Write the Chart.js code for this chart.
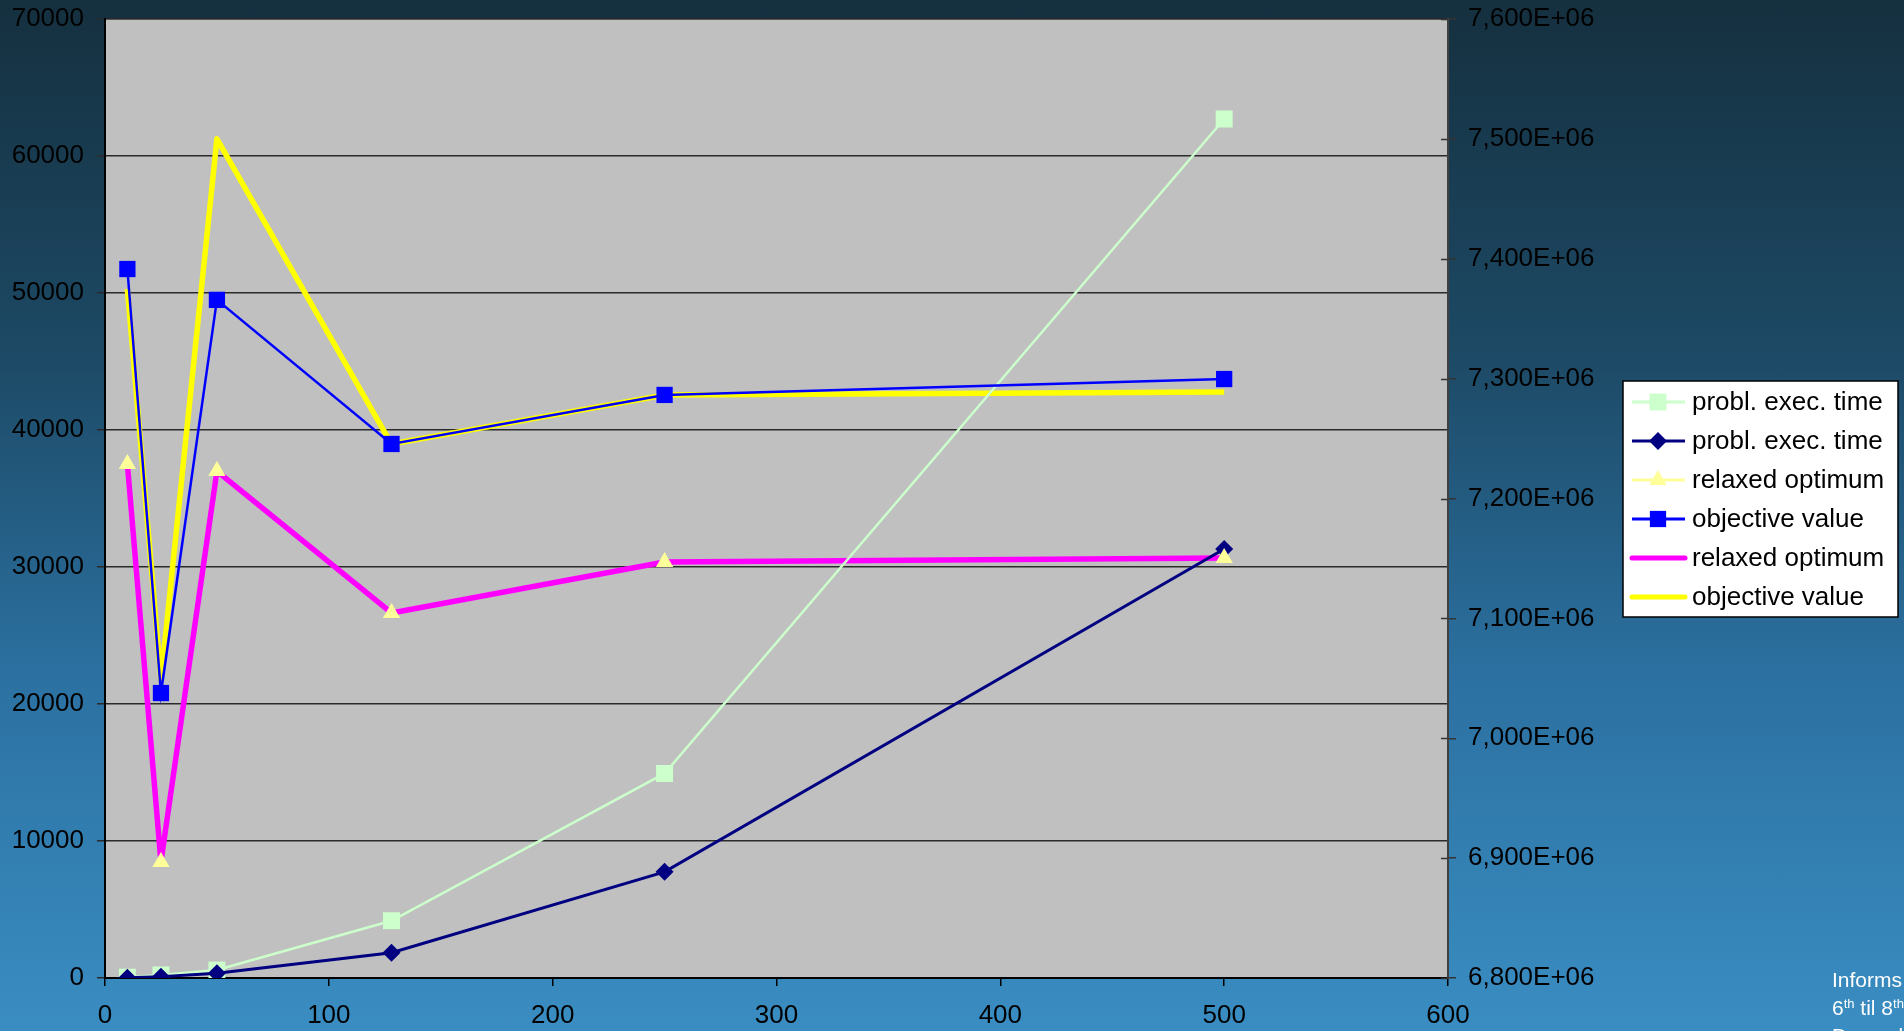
<!DOCTYPE html>
<html>
<head>
<meta charset="utf-8">
<script src="https://cdn.jsdelivr.net/npm/chart.js@4.4.1/dist/chart.umd.min.js"></script>
<style>
  html, body { margin: 0; padding: 0; overflow: hidden; }
  body {
    width: 1904px; height: 1031px; position: relative;
    background: linear-gradient(to bottom, #15303f 0%, #1d4a66 35%, #2b70a0 65%, #3a8dc2 100%);
    font-family: 'Liberation Sans', Arial, sans-serif;
  }
  #chart { position: absolute; left: 0; top: 0; }
  #note {
    position: absolute; left: 1832px; top: 966px; color: #fff;
    font-size: 21px; line-height: 28px; white-space: nowrap;
  }
  #note sup { font-size: 13px; vertical-align: 7px; line-height: 0; }
</style>
</head>
<body>
<canvas id="chart" width="1904" height="1031"></canvas>
<div id="note">Informs<br>6<sup>th</sup> til 8<sup>th</sup><br>December</div>
<script>
const problemSizes = [10, 25, 50, 128, 250, 500];
const execTimeA = [60, 220, 580, 4180, 14930, 62700];
const execTimeB = [20, 100, 340, 1850, 7750, 31310];
const relaxedLeft = [37520, 8470, 37010, 26640, 30370, 30660];
const objectiveLeft = [51750, 20800, 49500, 38980, 42560, 43720];
const relaxedRight = [7228800, 6896800, 7222900, 7104500, 7147000, 7150400];
const objectiveRight = [7374800, 7049000, 7500000, 7245400, 7286400, 7288800];

const xTicks = [0, 100, 200, 300, 400, 500, 600];
const leftTicks = [0, 10000, 20000, 30000, 40000, 50000, 60000, 70000];
const leftLabels = ['0', '10000', '20000', '30000', '40000', '50000', '60000', '70000'];
const rightTicks = [6800000, 6900000, 7000000, 7100000, 7200000, 7300000, 7400000, 7500000, 7600000];
const rightLabels = ['6,800E+06', '6,900E+06', '7,000E+06', '7,100E+06', '7,200E+06',
                     '7,300E+06', '7,400E+06', '7,500E+06', '7,600E+06'];

const FONT = "'Liberation Sans', Arial, sans-serif";

function pts(ys) {
    return problemSizes.map((x, i) => ({ x: x, y: ys[i] }));
}

const datasets = [
    {
        label: 'probl. exec. time', data: pts(execTimeA), yAxisID: 'y',
        borderColor: '#ccffcc', backgroundColor: '#ccffcc', borderWidth: 2.5,
        pointStyle: 'rect', pointRadius: 12, pointBorderWidth: 0, order: 3
    },
    {
        label: 'probl. exec. time', data: pts(execTimeB), yAxisID: 'y',
        borderColor: '#000080', backgroundColor: '#000080', borderWidth: 3,
        pointStyle: 'rectRot', pointRadius: 9, pointBorderWidth: 0, order: 2
    },
    {
        label: 'relaxed optimum', data: pts(relaxedLeft), yAxisID: 'y',
        borderColor: '#ffff99', backgroundColor: '#ffff99', borderWidth: 2.5,
        pointStyle: 'triangle', pointRadius: 10, pointBorderWidth: 0, showLine: false, order: 1
    },
    {
        label: 'objective value', data: pts(objectiveLeft), yAxisID: 'y',
        borderColor: '#0000ff', backgroundColor: '#0000ff', borderWidth: 2.5,
        pointStyle: 'rect', pointRadius: 11.5, pointBorderWidth: 0, order: 0
    },
    {
        label: 'relaxed optimum', data: pts(relaxedRight), yAxisID: 'y1',
        borderColor: '#ff00ff', backgroundColor: '#ff00ff', borderWidth: 5.5,
        borderJoinStyle: 'round', pointRadius: 0, order: 4
    },
    {
        label: 'objective value', data: pts(objectiveRight), yAxisID: 'y1',
        borderColor: '#ffff00', backgroundColor: '#ffff00', borderWidth: 5.5,
        borderJoinStyle: 'round', pointRadius: 0, order: 5
    }
];

const plotBackground = {
    id: 'plotBackground',
    beforeDraw(chart) {
        const a = chart.chartArea, ctx = chart.ctx;
        ctx.save();
        ctx.fillStyle = '#c0c0c0';
        ctx.fillRect(a.left, a.top, a.right - a.left, a.bottom - a.top);
        ctx.strokeStyle = '#808080';
        ctx.lineWidth = 2;
        ctx.strokeRect(a.left, a.top, a.right - a.left, a.bottom - a.top);
        ctx.restore();
    },
    afterDraw(chart) {
        // inner half of the right axis cross ticks
        const s = chart.scales.y1, a = chart.chartArea, ctx = chart.ctx;
        ctx.save();
        ctx.strokeStyle = '#333';
        ctx.lineWidth = 1.5;
        ctx.beginPath();
        s.ticks.forEach(t => {
            const y = Math.round(s.getPixelForValue(t.value)) + 0.5;
            ctx.moveTo(a.right - 7, y);
            ctx.lineTo(a.right, y);
        });
        ctx.stroke();
        ctx.restore();
    }
};

const boxLegend = {
    id: 'boxLegend',
    afterDraw(chart) {
        const ctx = chart.ctx;
        const left = 1623, top = 381, w = 275, h = 236;
        ctx.save();
        ctx.fillStyle = '#fff';
        ctx.fillRect(left, top, w, h);
        ctx.strokeStyle = '#000';
        ctx.lineWidth = 1.5;
        ctx.strokeRect(left, top, w, h);
        ctx.font = '26px ' + FONT;
        ctx.textBaseline = 'middle';
        chart.data.datasets.forEach((ds, i) => {
            const y = top + 21 + i * 39;
            ctx.strokeStyle = ds.borderColor;
            ctx.lineWidth = ds.borderWidth >= 5 ? 5 : 3;
            ctx.lineCap = ds.borderWidth >= 5 ? 'round' : 'butt';
            ctx.beginPath();
            ctx.moveTo(left + 9, y);
            ctx.lineTo(left + 62, y);
            ctx.stroke();
            if (ds.pointRadius > 0) {
                ctx.fillStyle = ds.backgroundColor;
                ctx.strokeStyle = ds.backgroundColor;
                Chart.helpers.drawPoint(ctx, {
                    pointStyle: ds.pointStyle, radius: ds.pointRadius,
                    rotation: 0, borderWidth: 0
                }, left + 35, y);
            }
            ctx.fillStyle = '#000';
            ctx.fillText(ds.label, left + 69, y + 1);
        });
        ctx.restore();
    }
};

function fitVertical(width) {
    return s => {
        s.width = width;
        s.paddingTop = 0;
        s.paddingBottom = 0;
    };
}

new Chart(document.getElementById('chart').getContext('2d'), {
    type: 'line',
    data: { datasets: datasets },
    options: {
        responsive: false,
        animation: false,
        layout: { padding: { top: 19, left: 0, right: 0, bottom: 0 } },
        elements: { line: { tension: 0 } },
        scales: {
            x: {
                type: 'linear', min: 0, max: 600,
                afterBuildTicks: s => { s.ticks = xTicks.map(v => ({ value: v })); },
                afterFit: s => { s.height = 53; },
                ticks: { color: '#000', font: { family: FONT, size: 26 }, padding: 14 },
                grid: { drawOnChartArea: false, tickLength: 8, color: '#000', lineWidth: 1.5 },
                border: { color: '#000', width: 2 }
            },
            y: {
                type: 'linear', position: 'left', min: 0, max: 70000,
                afterBuildTicks: s => { s.ticks = leftTicks.map(v => ({ value: v })); },
                afterFit: fitVertical(105),
                ticks: {
                    color: '#000', font: { family: FONT, size: 26 }, padding: 13,
                    callback: (v, i) => leftLabels[i]
                },
                grid: { color: '#2a2a2a', lineWidth: 1.5, tickLength: 8 },
                border: { color: '#000', width: 2 }
            },
            y1: {
                type: 'linear', position: 'right', min: 6800000, max: 7600000,
                afterBuildTicks: s => { s.ticks = rightTicks.map(v => ({ value: v })); },
                afterFit: fitVertical(456),
                ticks: {
                    color: '#000', font: { family: FONT, size: 26 }, padding: 12,
                    callback: (v, i) => rightLabels[i]
                },
                grid: { drawOnChartArea: false, tickLength: 8, color: '#333', lineWidth: 1.5 },
                border: { color: '#404040', width: 2 }
            }
        },
        plugins: {
            legend: { display: false },
            tooltip: { enabled: false }
        }
    },
    plugins: [plotBackground, boxLegend]
});
</script>
</body>
</html>
